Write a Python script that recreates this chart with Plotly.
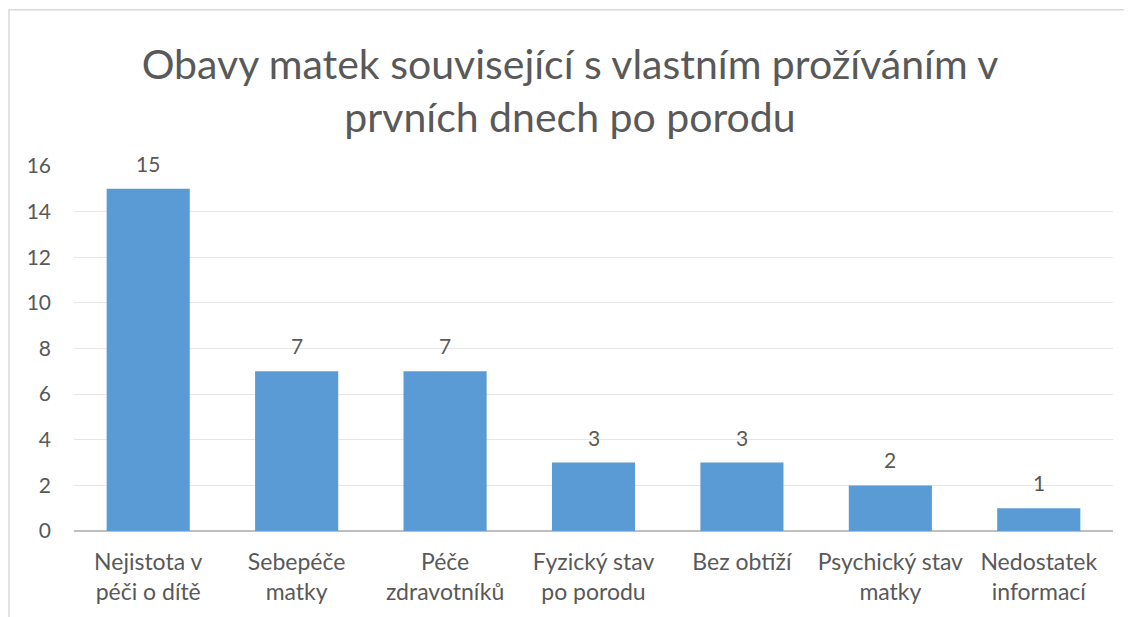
import plotly.graph_objects as go

categories = ["Nejistota v<br>péči o dítě", "Sebepéče<br>matky", "Péče<br>zdravotníků",
              "Fyzický stav<br>po porodu", "Bez obtíží", "Psychický stav<br>matky",
              "Nedostatek<br>informací"]
values = [15, 7, 7, 3, 3, 2, 1]
title_text = "Obavy matek související s vlastním prožíváním v<br>prvních dnech po porodu"
y_ticks = [0, 2, 4, 6, 8, 10, 12, 14, 16]

FONT = "Lato, 'Open Sans', sans-serif"
GRAY = "#595959"

fig = go.Figure(go.Bar(
    x=categories, y=values,
    marker=dict(color="#5B9BD5", line=dict(width=0)),
    cliponaxis=False,
))

for c, v in zip(categories, values):
    fig.add_annotation(x=c, y=v, text=str(v), showarrow=False, yanchor="bottom",
                       yshift=11, font=dict(size=21, color=GRAY, family=FONT))

# page body has an 8px margin, so the figure is offset by 8px
W, H = 1124, 609
L, T = 66, 158
R = W - 1105
B = H - 525
pw, ph = W - L - R, H - T - B

fig.update_layout(
    width=W, height=H,
    margin=dict(l=L, r=R, t=T, b=B),
    paper_bgcolor="white", plot_bgcolor="white",
    bargap=0.44,
    font=dict(family=FONT, color=GRAY, size=21),
    title=dict(text=title_text, x=0.5, xanchor="center", y=0.884, yanchor="top",
               font=dict(size=41, color=GRAY, family=FONT)),
    showlegend=False,
    xaxis=dict(showgrid=False, showline=False, ticks="", tickfont=dict(size=23, color=GRAY),
               ticklabelstandoff=15),
    yaxis=dict(range=[0, 16], tickvals=y_ticks, showgrid=True, gridcolor="#E6E6E6",
               gridwidth=1, zeroline=True, zerolinecolor="#BFBFBF", zerolinewidth=2,
               tickfont=dict(size=21, color=GRAY), ticks="", ticklabelstandoff=22,
               fixedrange=True),
    shapes=[dict(type="rect", xref="paper", yref="paper",
                 x0=(1 - L) / pw, x1=(W + 20 - L) / pw,
                 y0=(H - B - (H + 20)) / ph, y1=(H - B - 1) / ph,
                 line=dict(color="#D9D9D9", width=1.5), fillcolor="rgba(0,0,0,0)",
                 layer="below")],
)

fig.write_html("out.html")
